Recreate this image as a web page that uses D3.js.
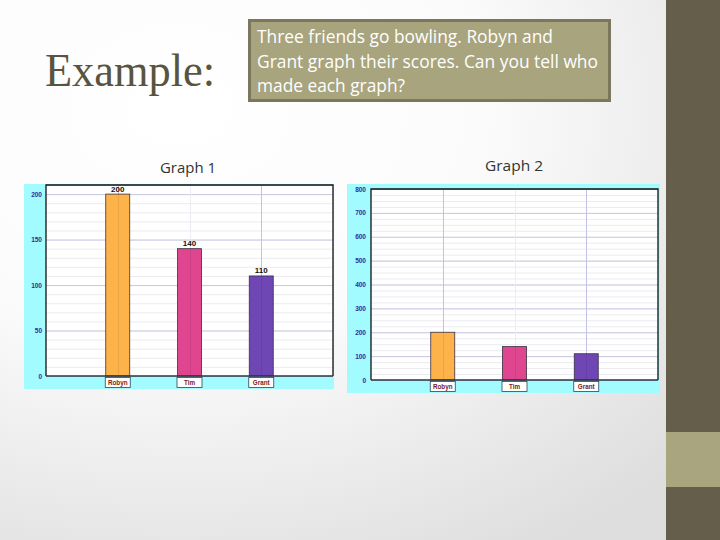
<!DOCTYPE html>
<html><head><meta charset="utf-8">
<script src="https://cdn.jsdelivr.net/npm/d3@7"></script>
<style>html,body{margin:0;padding:0;background:#fff;}svg{display:block;}</style>
</head><body>
<svg id="c" width="720" height="540"></svg>
<script>
// ---- data ----
const players = ["Robyn", "Tim", "Grant"];
const scores = [200, 140, 110];
const barColors = ["#fdb24a", "#e0458f", "#6f47b4"];
const graph1Ticks = [0, 50, 100, 150, 200];
const graph2Ticks = [0, 100, 200, 300, 400, 500, 600, 700, 800];
const titleText = "Example:";
const promptLines = ["Three friends go bowling. Robyn and", "Grant graph their scores. Can you tell who", "made each graph?"];
const graphTitles = ["Graph 1", "Graph 2"];

const svg = d3.select("#c");
const defs = svg.append("defs");
const rg = defs.append("radialGradient").attr("id", "bg")
  .attr("cx", "25%").attr("cy", "20%").attr("r", "95%");
rg.append("stop").attr("offset", "0%").attr("stop-color", "#ffffff");
rg.append("stop").attr("offset", "45%").attr("stop-color", "#fbfbfb");
rg.append("stop").attr("offset", "100%").attr("stop-color", "#dedede");
svg.append("rect").attr("width", 720).attr("height", 540).attr("fill", "url(#bg)");

// sidebar
svg.append("rect").attr("x", 666).attr("y", 0).attr("width", 54).attr("height", 540).attr("fill", "#655e4a");
svg.append("rect").attr("x", 666).attr("y", 432).attr("width", 54).attr("height", 55).attr("fill", "#a8a57f");

// title
svg.append("text").attr("x", 45).attr("y", 86).text(titleText)
  .attr("font-family", "Liberation Serif, serif").attr("font-size", 47)
  .attr("textLength", 170).attr("lengthAdjust", "spacingAndGlyphs")
  .attr("fill", "#59543f");

// prompt box
svg.append("rect").attr("x", 249.5).attr("y", 20.5).attr("width", 360).attr("height", 80)
  .attr("fill", "#a8a47e").attr("stroke", "#7b775f").attr("stroke-width", 3);
const lens = [296, 341, 148];
promptLines.forEach((l, i) => {
  svg.append("text").attr("x", 257).attr("y", 43 + i * 24.5).text(l)
    .attr("font-family", "Open Sans, sans-serif").attr("font-size", 17.5)
    .attr("textLength", lens[i]).attr("lengthAdjust", "spacingAndGlyphs")
    .attr("fill", "#ffffff");
});

// graph titles
svg.append("text").attr("x", 160).attr("y", 173).text(graphTitles[0])
  .attr("font-family", "Open Sans, sans-serif").attr("font-size", 15)
  .attr("textLength", 56).attr("lengthAdjust", "spacingAndGlyphs").attr("fill", "#333");
svg.append("text").attr("x", 485).attr("y", 171).text(graphTitles[1])
  .attr("font-family", "Open Sans, sans-serif").attr("font-size", 15)
  .attr("textLength", 58).attr("lengthAdjust", "spacingAndGlyphs").attr("fill", "#333");

function drawGraph(cfg) {
  const g = svg.append("g");
  g.append("rect").attr("x", cfg.panel[0]).attr("y", cfg.panel[1])
    .attr("width", cfg.panel[2]).attr("height", cfg.panel[3]).attr("fill", "#a2fcff");
  const [x0, x1, y0, y1] = cfg.plot;
  g.append("rect").attr("x", x0).attr("y", y0).attr("width", x1 - x0).attr("height", y1 - y0).attr("fill", "#fff");
  const y = d3.scaleLinear().domain([0, cfg.max]).range([y1, y0]);
  const x = d3.scalePoint().domain(players).range([x0, x1]).padding(1);

  // minor grid
  const minor = d3.range(0, cfg.max + 0.001, cfg.minor);
  g.selectAll(".mn").data(minor).join("line")
    .attr("x1", x0).attr("x2", x1).attr("y1", d => y(d) + 0.5).attr("y2", d => y(d) + 0.5)
    .attr("stroke", "#ebebf1").attr("stroke-width", 1);
  g.selectAll(".mj").data(cfg.ticks).join("line")
    .attr("x1", x0).attr("x2", x1).attr("y1", d => y(d) + 0.5).attr("y2", d => y(d) + 0.5)
    .attr("stroke", "#c9c9e2").attr("stroke-width", 1);
  // vertical grid
  g.selectAll(".vg").data(players).join("line")
    .attr("x1", d => Math.round(x(d)) + 0.5).attr("x2", d => Math.round(x(d)) + 0.5)
    .attr("y1", y0).attr("y2", y1)
    .attr("stroke", (d, i) => i === 1 ? "#ececf4" : "#c2c2e4");

  // bars
  const bw = 24;
  g.selectAll(".bar").data(scores).join("rect")
    .attr("x", (d, i) => x(players[i]) - bw / 2).attr("y", d => y(d))
    .attr("width", bw).attr("height", d => y1 - y(d))
    .attr("fill", (d, i) => barColors[i]).attr("stroke", "#3a3040").attr("stroke-width", 0.8);
  // center line on bar
  g.selectAll(".bc").data(scores).join("line")
    .attr("x1", (d, i) => Math.round(x(players[i])) + 0.5).attr("x2", (d, i) => Math.round(x(players[i])) + 0.5)
    .attr("y1", d => y(d)).attr("y2", y1)
    .attr("stroke", "#000").attr("stroke-opacity", 0.08);

  if (cfg.valueLabels) {
    g.selectAll(".vl").data(scores).join("text")
      .attr("x", (d, i) => x(players[i])).attr("y", d => y(d) - 2.5)
      .attr("text-anchor", "middle").attr("font-family", "Liberation Sans, Arial, sans-serif")
      .attr("font-size", 8).attr("font-weight", "bold").attr("fill", "#111").text(d => d);
  }

  // border
  g.append("path").attr("d", `M${x0},${y1}V${y0}H${x1}V${y1}`)
    .attr("fill", "none").attr("stroke", "#111").attr("stroke-width", 1.3);
  g.append("line").attr("x1", x0).attr("x2", x1).attr("y1", y1).attr("y2", y1)
    .attr("stroke", "#1f3a44").attr("stroke-width", 1.5);

  // y axis labels via d3 axis
  const ax = g.append("g").attr("transform", `translate(${x0},0)`)
    .call(d3.axisLeft(y).tickValues(cfg.ticks).tickSize(0).tickPadding(cfg.pad).tickFormat(d3.format("d")));
  ax.select(".domain").remove();
  ax.selectAll("text").attr("font-family", "Liberation Sans, Arial, sans-serif")
    .attr("font-size", 6.5).attr("font-weight", "bold").attr("fill", "#2e2e96");

  // category label boxes
  const lb = g.selectAll(".lb").data(players).join("g")
    .attr("transform", d => `translate(${x(d)},${y1 + cfg.boxOff})`);
  lb.append("rect").attr("x", -12.5).attr("y", 0).attr("width", 25).attr("height", 10)
    .attr("fill", "#fff").attr("stroke", "#30405a").attr("stroke-width", 0.8);
  lb.append("text").attr("x", 0).attr("y", 7.5).attr("text-anchor", "middle")
    .attr("font-family", "Liberation Sans, Arial, sans-serif").attr("font-size", 6.3)
    .attr("font-weight", "bold").attr("fill", "#7a1a1a").text(d => d);
}

drawGraph({panel: [24, 184, 310, 205], plot: [46, 333, 185, 376], max: 210, ticks: graph1Ticks, minor: 10, valueLabels: true, pad: 4, boxOff: 1.5});
drawGraph({panel: [347, 184, 313, 209], plot: [371, 658, 189, 380], max: 800, ticks: graph2Ticks, minor: 25, valueLabels: false, pad: 5, boxOff: 1.5});
</script>
</body></html>
